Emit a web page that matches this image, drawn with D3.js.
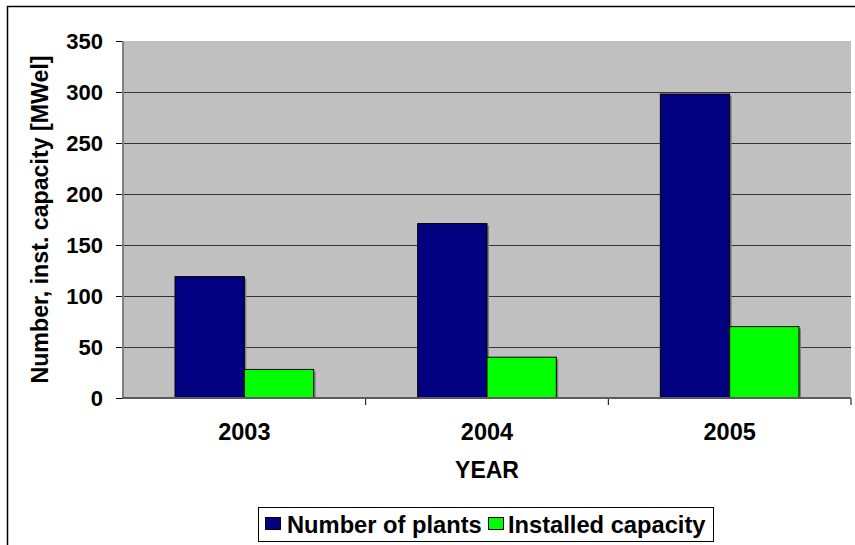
<!DOCTYPE html>
<html><head><meta charset="utf-8">
<script src="https://cdn.jsdelivr.net/npm/d3@7/dist/d3.min.js"></script>
<style>body{margin:0;background:#fff}svg{display:block}text{font-family:"Liberation Sans",Arial,sans-serif;font-weight:bold;fill:#000}</style>
</head><body><svg id="c" width="855" height="545"></svg>
<script>
const years = ["2003","2004","2005"];
const seriesNames = ["Number of plants","Installed capacity"];
const numberOfPlants = [119,171,298];
const installedCapacity = [28,40,70];
const colors = ["#000080","#00ff00"];
const yTicks = [0,50,100,150,200,250,300,350];

const svg = d3.select("#c");
const L=123,R=851,T=41,B=398;
// outer border
svg.append("rect").attr("x",7.5).attr("y",6.5).attr("width",900).attr("height",600)
  .attr("fill","#fff").attr("stroke","#000").attr("stroke-width",1.5);

const x = d3.scaleBand().domain(years).range([L,R]).padding(0);
const bw = x.step()/3.5;
const xs = d3.scaleBand().domain(seriesNames).range([(x.step()-2*bw)/2,(x.step()+2*bw)/2]);
const y = d3.scaleLinear().domain([0,350]).range([B,T]);

svg.append("rect").attr("x",L).attr("y",T).attr("width",R-L).attr("height",B-T).attr("fill","#c0c0c0");

// gridlines
svg.append("g").selectAll("line").data(yTicks.filter(d=>d>0&&d<350)).join("line")
  .attr("x1",L).attr("x2",R).attr("y1",d=>Math.round(y(d))+0.5).attr("y2",d=>Math.round(y(d))+0.5)
  .attr("stroke","#333").attr("stroke-width",1);

const data = years.map((yr,i)=>({yr, vals:[numberOfPlants[i],installedCapacity[i]]}));
const g = svg.append("g");
data.forEach(d=>{
  d.vals.forEach((v,j)=>{
    const bx = x(d.yr)+xs(seriesNames[j]);
    g.append("rect").attr("x",bx+2).attr("y",y(v)+2).attr("width",bw).attr("height",B-y(v)-2)
      .attr("fill","#808080");
  });
});
data.forEach(d=>{
  d.vals.forEach((v,j)=>{
    const bx = x(d.yr)+xs(seriesNames[j]);
    g.append("rect").attr("x",bx).attr("y",y(v)).attr("width",bw).attr("height",B-y(v))
      .attr("fill",colors[j]).attr("stroke","#000").attr("stroke-width",1);
  });
});

// axes
const yAxis = d3.axisLeft(y).tickValues(yTicks).tickSize(7).tickPadding(13);
const ya = svg.append("g").attr("transform",`translate(${L},0)`).call(yAxis);
ya.select(".domain").remove();
ya.selectAll("line").attr("stroke","#000");
ya.selectAll("text").style("font-size","22px").attr("dy","0.35em");
svg.append("line").attr("x1",L).attr("x2",L).attr("y1",T).attr("y2",B+1).attr("stroke","#808080").attr("stroke-width",2);

const xAxis = d3.axisBottom(x).tickSize(0).tickPadding(25);
const xa = svg.append("g").attr("transform",`translate(0,${B})`).call(xAxis);
xa.select(".domain").remove();
xa.selectAll("text").style("font-size","23.5px");
svg.append("g").selectAll("line").data(years.slice(1).concat(["end"])).join("line")
  .attr("x1",(d,i)=>L+x.step()*(i+1)).attr("x2",(d,i)=>L+x.step()*(i+1))
  .attr("y1",B).attr("y2",B+7).attr("stroke","#000");
svg.append("line").attr("x1",L-1).attr("x2",R).attr("y1",B).attr("y2",B).attr("stroke","#5a5a5a").attr("stroke-width",2);

svg.append("text").attr("x",(L+R)/2).attr("y",478).attr("text-anchor","middle").style("font-size","23px").text("YEAR");
svg.append("text").attr("transform",`translate(48,${(T+B)/2}) rotate(-90)`).attr("text-anchor","middle")
  .style("font-size","23.2px").text("Number, inst. capacity [MWel]");

// legend
const lg = svg.append("g");
lg.append("rect").attr("x",258.5).attr("y",507.5).attr("width",455).attr("height",34).attr("fill","#fff").attr("stroke","#000");
const lx=[265,488], tx=[287,508];
seriesNames.forEach((s,j)=>{
  lg.append("rect").attr("x",lx[j]+0.5).attr("y",517.5).attr("width",15).attr("height",12).attr("fill",colors[j]).attr("stroke","#000");
  lg.append("text").attr("x",tx[j]).attr("y",533).style("font-size","23.7px").text(s);
});
</script></body></html>
